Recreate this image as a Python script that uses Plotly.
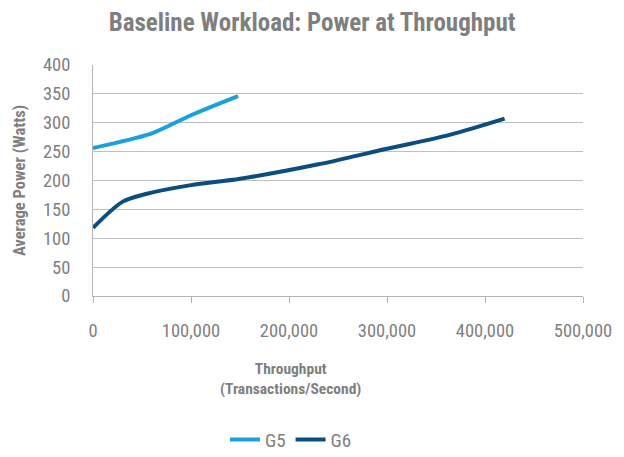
import plotly.graph_objects as go

# Measured power draw vs. throughput for each server generation
g5_throughput = [0, 40000, 62000, 100000, 148000]
g5_power = [256, 272, 283, 313, 346]

g6_throughput = [0, 30000, 55000, 100000, 150000, 230000, 300000, 364000, 420000]
g6_power = [118, 163, 177, 192, 203, 228, 255, 279, 307]

x_ticks = [0, 100000, 200000, 300000, 400000, 500000]
x_labels = ["0", "100,000", "200,000", "300,000", "400,000", "500,000"]
y_ticks = [0, 50, 100, 150, 200, 250, 300, 350, 400]

FONT = "Roboto Condensed, Liberation Sans Narrow, DejaVu Sans Condensed, Roboto"
GRAY = "#7f7f7f"

fig = go.Figure()
fig.add_trace(go.Scatter(
    x=g5_throughput, y=g5_power, name="G5", mode="lines",
    line=dict(color="#1aa1dc", width=4, shape="spline", smoothing=0.8),
))
fig.add_trace(go.Scatter(
    x=g6_throughput, y=g6_power, name="G6", mode="lines",
    line=dict(color="#0c4d80", width=4, shape="spline", smoothing=0.8),
))

fig.update_layout(
    width=624, height=457,
    margin=dict(l=93, r=41, t=65, b=161, autoexpand=False),
    plot_bgcolor="white", paper_bgcolor="white",
    font=dict(family=FONT, color=GRAY, size=17),
    title=dict(
        text="<b>Baseline Workload: Power at Throughput</b>",
        x=0.5, xanchor="center", y=0.952, yanchor="middle",
        font=dict(family=FONT, size=25, color=GRAY),
    ),
    xaxis=dict(
        range=[0, 500000], tickvals=x_ticks, ticktext=x_labels,
        showgrid=False, zeroline=False,
        showline=True, linecolor="#b3b3b3", linewidth=1,
        ticks="outside", ticklen=6, tickcolor="#b3b3b3",
        ticklabelstandoff=12, automargin=False,
        tickfont=dict(family=FONT, size=18.5, color=GRAY),
    ),
    yaxis=dict(
        range=[0, 400], tickvals=y_ticks,
        showgrid=True, gridcolor="#c0c0c0", gridwidth=1,
        zeroline=False, showline=True, linecolor="#b3b3b3", linewidth=1,
        ticks="", ticklabelstandoff=18, automargin=False,
        tickfont=dict(family=FONT, size=18.5, color=GRAY),
        title=dict(text="<b>Average Power (Watts)</b>", standoff=13,
                   font=dict(family=FONT, size=16.5, color=GRAY)),
    ),
    legend=dict(
        orientation="h", x=0.404, xanchor="center", y=-0.54, yanchor="top",
        font=dict(family=FONT, size=19, color=GRAY),
        itemwidth=30, tracegroupgap=0,
    ),
    showlegend=True,
)

fig.add_annotation(
    text="<b>Throughput<br>(Transactions/Second)</b>",
    xref="paper", yref="paper", x=0.404, y=-0.27, xanchor="center", yanchor="top",
    showarrow=False, align="center",
    font=dict(family=FONT, size=15.5, color=GRAY),
)

fig.write_html("out.html")
